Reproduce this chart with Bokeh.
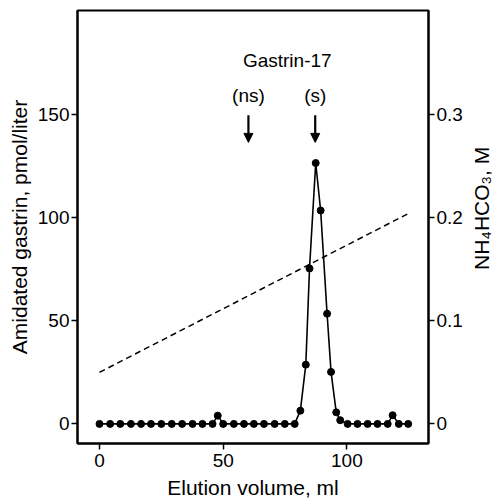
import math
from bokeh.plotting import figure
from bokeh.layouts import row
from bokeh.models import (Range1d, LinearAxis, FixedTicker, CustomJSTickFormatter,
                          Arrow, NormalHead, ColumnDataSource)
from bokeh.embed import file_html
from bokeh.resources import INLINE
from bokeh.core.properties import value

# ---- data ----
volume_ml = [0.0, 4.3, 8.4, 12.7, 16.8, 20.8, 25.0, 29.2, 33.4, 37.6, 41.6, 45.7,
             47.8, 50.0, 54.3, 58.4, 62.4, 66.5, 70.8, 74.9, 78.9, 81.2, 83.4,
             84.9, 87.4, 89.4, 92.0, 93.6, 95.7, 97.3, 100.3, 104.3, 108.4,
             112.4, 116.5, 118.5, 121.0, 124.8]
gastrin_pmol = [0, 0, 0, 0, 0, 0, 0, 0, 0, 0, 0, 0,
                4, 0, 0, 0, 0, 0, 0, 0, 0, 6.4, 28.7,
                75.3, 126.4, 103.4, 53.4, 25.2, 5.6, 1.8, 0, 0, 0,
                0, 0, 4.2, 0, 0]
gradient_ml = [0, 125]
gradient_M = [0.05, 0.204]
marker_labels = ["(ns)", "(s)"]
marker_ml = [60.2, 87.2]
peptide_label = ["Gastrin-17"]
peptide_ml = [75.9]
x_ticks = [0, 50, 100]
left_ticks = [0, 50, 100, 150]
right_ticks = [0, 0.1, 0.2, 0.3]
right_axis_title = ["NH\u2084HCO\u2083, M"]

FONT = "Liberation Sans"
FRAME_W, FRAME_H = 351, 433
SIDE_W, TOTAL_H = 28, 500

p = figure(frame_width=FRAME_W, frame_height=FRAME_H, output_backend="svg",
           toolbar_location=None,
           x_range=Range1d(-8.9, 133.0), y_range=Range1d(-9.5, 200.3),
           min_border_left=77, min_border_top=10, min_border_right=38,
           min_border_bottom=57)
p.extra_y_ranges = {"salt": Range1d(-9.5 / 500, 200.3 / 500)}

p.xgrid.visible = False
p.ygrid.visible = False
p.outline_line_color = "black"
p.outline_line_width = 2
p.background_fill_color = "white"
p.border_fill_color = "white"

# gradient (dashed)
p.line(gradient_ml, gradient_M, y_range_name="salt", line_dash="6 4",
       line_width=1.5, line_color="black")

# elution profile
p.line(volume_ml, gastrin_pmol, line_width=1.6, line_color="black")
p.scatter(volume_ml, gastrin_pmol, size=7, marker="circle",
          fill_color="black", line_color="black")

# arrows for standards
for xm in marker_ml:
    p.add_layout(Arrow(x_start=xm, y_start=149.5, x_end=xm, y_end=136.4,
                       line_width=2.2, line_color="black",
                       end=NormalHead(size=9, fill_color="black", line_color="black")))

src = ColumnDataSource(dict(x=marker_ml, y=[159, 159], t=marker_labels))
p.text(x="x", y="y", text="t", source=src, text_align="center",
       text_baseline="middle", text_font=value(FONT), text_font_size="19px",
       text_color="black")
src2 = ColumnDataSource(dict(x=peptide_ml, y=[176], t=peptide_label))
p.text(x="x", y="y", text="t", source=src2, text_align="center",
       text_baseline="middle", text_font=value(FONT), text_font_size="19px",
       text_color="black")

def style(ax, label_standoff, tick_standoff):
    ax.axis_line_color = "black"
    ax.axis_line_width = 2
    ax.major_tick_line_color = "black"
    ax.major_tick_line_width = 1.5
    ax.major_tick_out = 6
    ax.major_tick_in = 0
    ax.minor_tick_line_color = None
    ax.major_label_text_font = FONT
    ax.major_label_text_font_size = "19px"
    ax.major_label_text_color = "black"
    ax.axis_label_text_font = FONT
    ax.axis_label_text_font_size = "21px"
    ax.axis_label_text_font_style = "normal"
    ax.axis_label_text_color = "black"
    ax.major_label_standoff = tick_standoff
    ax.axis_label_standoff = label_standoff

p.xaxis.ticker = FixedTicker(ticks=x_ticks)
p.xaxis.axis_label = "Elution volume, ml"
style(p.xaxis[0], 6, 4)

p.yaxis.ticker = FixedTicker(ticks=left_ticks)
p.yaxis.axis_label = "Amidated gastrin, pmol/liter"
style(p.yaxis[0], 4, 2)

right = LinearAxis(y_range_name="salt", ticker=FixedTicker(ticks=right_ticks))
right.formatter = CustomJSTickFormatter(code="return tick == 0 ? '0' : tick.toFixed(1);")
style(right, 4, 2)
p.add_layout(right, "right")

# narrow strip holding the right-axis title, reading bottom-to-top
side = figure(width=SIDE_W, height=TOTAL_H, output_backend="svg",
              toolbar_location=None, x_range=Range1d(0, SIDE_W),
              y_range=Range1d(0, TOTAL_H), min_border=0)
side.axis.visible = False
side.grid.visible = False
side.outline_line_color = None
side.background_fill_color = "white"
side.border_fill_color = "white"
side.text(x=[15], y=[TOTAL_H - 229], text=right_axis_title, angle=math.pi / 2,
          text_align="center", text_baseline="middle", text_font=value(FONT),
          text_font_size="21px", text_color="black")

layout = row(p, side)
open("out.html", "w").write(file_html(layout, INLINE))
